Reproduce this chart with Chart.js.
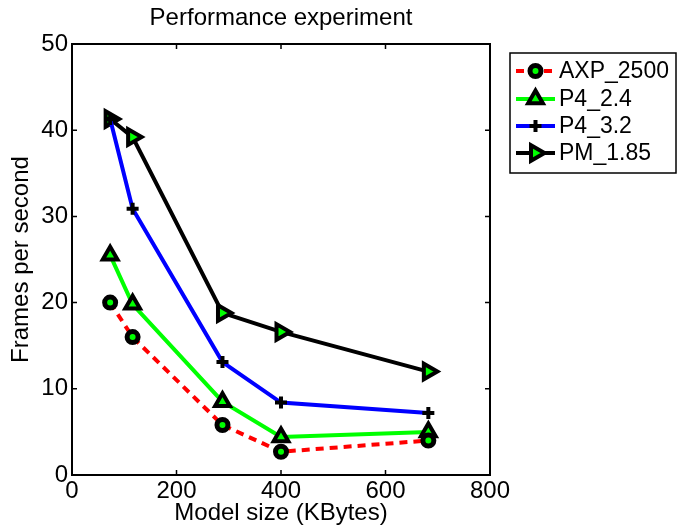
<!DOCTYPE html>
<html><head><meta charset="utf-8">
<script src="https://cdn.jsdelivr.net/npm/chart.js@4.4.0/dist/chart.umd.min.js"></script>
<style>html,body{margin:0;padding:0;background:#fff}#wrap{width:677px;height:531px;position:relative}</style>
</head><body><div id="wrap"><canvas id="c"></canvas></div>
<script>
const modelSize = [73, 116, 288, 400, 682];
const axp2500 = [20.0, 16.0, 5.8, 2.7, 4.0];
const p4_24 = [25.5, 19.8, 8.5, 4.4, 5.0];
const p4_32 = [41.3, 30.9, 13.1, 8.4, 7.2];
const pm185 = [41.3, 39.2, 18.8, 16.6, 12.0];
const seriesNames = ['AXP_2500', 'P4_2.4', 'P4_3.2', 'PM_1.85'];
const xTicks = [0, 200, 400, 600, 800];
const yTicks = [0, 10, 20, 30, 40, 50];
const chartTitle = 'Performance experiment';

const FONT = '"Liberation Sans", Arial, Helvetica, sans-serif';
const pts = arr => arr.map((v, i) => ({x: modelSize[i], y: v}));

const datasets = [
  {label: seriesNames[0], data: pts(axp2500), borderColor: '#ff0000', borderDash: [8, 6], pointStyle: 'circle', pointRadius: 5.5, pointBorderWidth: 5, pointRotation: 0},
  {label: seriesNames[1], data: pts(p4_24), borderColor: '#00ff00', pointStyle: 'triangle', pointRadius: 8.5, pointBorderWidth: 4, pointRotation: 0},
  {label: seriesNames[2], data: pts(p4_32), borderColor: '#0000ff', pointStyle: 'cross', pointRadius: 6, pointBorderWidth: 4, pointRotation: 0},
  {label: seriesNames[3], data: pts(pm185), borderColor: '#000000', pointStyle: 'triangle', pointRadius: 9, pointBorderWidth: 4, pointRotation: 90}
].map(d => Object.assign({
  borderWidth: 4, pointBorderColor: '#000000', pointBackgroundColor: '#00ff00',
  tension: 0, fill: false, pointHoverRadius: d.pointRadius
}, d));

function drawMarker(ctx, ds, x, y) {
  if (Chart.helpers && Chart.helpers.drawPoint) {
    ctx.save();
    ctx.strokeStyle = ds.pointBorderColor;
    ctx.fillStyle = ds.pointBackgroundColor;
    ctx.lineWidth = ds.pointBorderWidth;
    ctx.setLineDash([]);
    Chart.helpers.drawPoint(ctx, {pointStyle: ds.pointStyle, radius: ds.pointRadius, rotation: ds.pointRotation, borderWidth: ds.pointBorderWidth}, x, y);
    ctx.restore();
  }
}

const framePlugin = {
  id: 'frame',
  beforeDatasetsDraw(chart) {
    const {ctx, chartArea: a, scales} = chart;
    ctx.save();
    ctx.fillStyle = '#000';
    ctx.font = '24px ' + FONT;
    ctx.textAlign = 'center';
    ctx.textBaseline = 'alphabetic';
    ctx.fillText(chartTitle, (a.left + a.right) / 2, 25);
    ctx.strokeStyle = '#000';
    ctx.lineWidth = 2;
    ctx.strokeRect(a.left, a.top, a.right - a.left, a.bottom - a.top);
    ctx.lineWidth = 1.5;
    const L = 5;
    ctx.beginPath();
    xTicks.forEach(v => {
      const px = scales.x.getPixelForValue(v);
      ctx.moveTo(px, a.bottom); ctx.lineTo(px, a.bottom - L);
      ctx.moveTo(px, a.top); ctx.lineTo(px, a.top + L);
    });
    yTicks.forEach(v => {
      const py = scales.y.getPixelForValue(v);
      ctx.moveTo(a.left, py); ctx.lineTo(a.left + L, py);
      ctx.moveTo(a.right, py); ctx.lineTo(a.right - L, py);
    });
    ctx.stroke();
    ctx.restore();
  }
};

const legendPlugin = {
  id: 'customLegend',
  afterDraw(chart) {
    const ctx = chart.ctx;
    const bx = 510, by = 53, bw = 166, bh = 120;
    ctx.save();
    ctx.fillStyle = '#fff';
    ctx.fillRect(bx, by, bw, bh);
    ctx.strokeStyle = '#000';
    ctx.lineWidth = 1.5;
    ctx.strokeRect(bx, by, bw, bh);
    const rows = [71, 99, 126, 153];
    chart.data.datasets.forEach((ds, i) => {
      const y = rows[i];
      ctx.save();
      ctx.strokeStyle = ds.borderColor;
      ctx.lineWidth = ds.borderWidth;
      ctx.setLineDash(ds.borderDash || []);
      ctx.beginPath();
      ctx.moveTo(516, y); ctx.lineTo(555, y);
      ctx.stroke();
      ctx.restore();
      drawMarker(ctx, ds, 535.5, y);
      ctx.fillStyle = '#000';
      ctx.font = '23px ' + FONT;
      ctx.textBaseline = 'middle';
      ctx.textAlign = 'left';
      ctx.fillText(ds.label, 559, y + 1);
    });
    ctx.restore();
  }
};

new Chart(document.getElementById('c'), {
  type: 'line',
  data: {datasets},
  options: {
    responsive: true,
    maintainAspectRatio: false,
    devicePixelRatio: 1,
    animation: false,
    layout: {padding: {left: 0, right: 187, top: 44, bottom: 0}},
    plugins: {
      legend: {display: false},
      tooltip: {enabled: false},
      title: {display: false}
    },
    scales: {
      x: {
        type: 'linear', min: 0, max: 800,
        afterBuildTicks: s => { s.ticks = xTicks.map(v => ({value: v})); },
        ticks: {color: '#000', font: {family: FONT, size: 24}, padding: 2, maxRotation: 0},
        grid: {display: false, drawTicks: false},
        border: {display: false},
        title: {display: true, text: 'Model size (KBytes)', color: '#000', font: {family: FONT, size: 24}, padding: {top: 0, bottom: 3}},
        afterFit: s => { s.height = 56; }
      },
      y: {
        type: 'linear', min: 0, max: 50,
        afterBuildTicks: s => { s.ticks = yTicks.map(v => ({value: v})); },
        ticks: {color: '#000', font: {family: FONT, size: 24}, padding: 4},
        grid: {display: false, drawTicks: false},
        border: {display: false},
        title: {display: true, text: 'Frames per second', color: '#000', font: {family: FONT, size: 24}, padding: {top: 7, bottom: 0}},
        afterFit: s => { s.width = 72; }
      }
    }
  },
  plugins: [framePlugin, legendPlugin]
});
</script>
</body></html>
